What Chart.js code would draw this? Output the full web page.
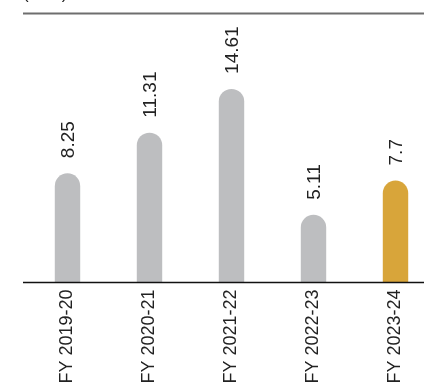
<!DOCTYPE html>
<html>
<head>
<meta charset="utf-8">
<script src="https://cdn.jsdelivr.net/npm/chart.js@4"></script>
<style>
  html, body { margin: 0; padding: 0; background: #fff; overflow: hidden; width: 424px; height: 386px; }
  #wrap { position: relative; width: 440px; height: 386px; }
  #unit { position: absolute; left: 23px; top: -16px; font: 17px "Liberation Sans", Arial, sans-serif; color: #222; }
</style>
</head>
<body>
<div id="wrap">
  <canvas id="c"></canvas>
  <div id="unit">(in %)</div>
</div>
<script>
const categories = ["FY 2019-20", "FY 2020-21", "FY 2021-22", "FY 2022-23", "FY 2023-24"];
const values = [8.25, 11.31, 14.61, 5.11, 7.7];
const valueLabels = ["8.25", "11.31", "14.61", "5.11", "7.7"];
const barColors = ["#bdbec0", "#bdbec0", "#bdbec0", "#bdbec0", "#d8a53a"];

const FONT = '"Liberation Sans", Arial, sans-serif';

const decor = {
  id: 'decor',
  afterDatasetsDraw(chart) {
    const ctx = chart.ctx;
    const a = chart.chartArea;
    ctx.save();
    ctx.strokeStyle = '#6e6e6e';
    ctx.lineWidth = 2;
    ctx.beginPath();
    ctx.moveTo(a.left - 3.5, a.top);
    ctx.lineTo(chart.width, a.top);
    ctx.stroke();
    ctx.strokeStyle = '#111';
    ctx.lineWidth = 1.5;
    ctx.beginPath();
    ctx.moveTo(a.left - 3.5, a.bottom);
    ctx.lineTo(chart.width, a.bottom);
    ctx.stroke();
    const meta = chart.getDatasetMeta(0);
    ctx.fillStyle = '#222';
    ctx.font = '19px ' + FONT;
    ctx.textAlign = 'left';
    ctx.textBaseline = 'middle';
    meta.data.forEach((bar, i) => {
      ctx.save();
      ctx.translate(bar.x + 1, bar.y - 15);
      ctx.rotate(-Math.PI / 2);
      ctx.fillText(valueLabels[i], 0, 0);
      ctx.restore();
    });
    ctx.restore();
  }
};

new Chart(document.getElementById('c'), {
  type: 'bar',
  data: {
    labels: categories,
    datasets: [{
      data: values,
      backgroundColor: barColors,
      borderRadius: 20,
      borderSkipped: 'bottom',
      barPercentage: 0.31,
      categoryPercentage: 1.0
    }]
  },
  options: {
    responsive: true,
    maintainAspectRatio: false,
    animation: false,
    layout: { padding: { left: 26.5, right: 3.5, top: 13.5, bottom: 0 } },
    plugins: { legend: { display: false }, tooltip: { enabled: false } },
    scales: {
      x: {
        grid: { display: false, drawTicks: false },
        border: { display: false },
        ticks: {
          color: '#222',
          font: { family: FONT, size: 18 },
          minRotation: 90,
          maxRotation: 90,
          padding: 7
        },
        afterFit(scale) { scale.height = 103.5; }
      },
      y: {
        display: false,
        min: 0,
        max: 20.3
      }
    }
  },
  plugins: [decor]
});
</script>
</body>
</html>
